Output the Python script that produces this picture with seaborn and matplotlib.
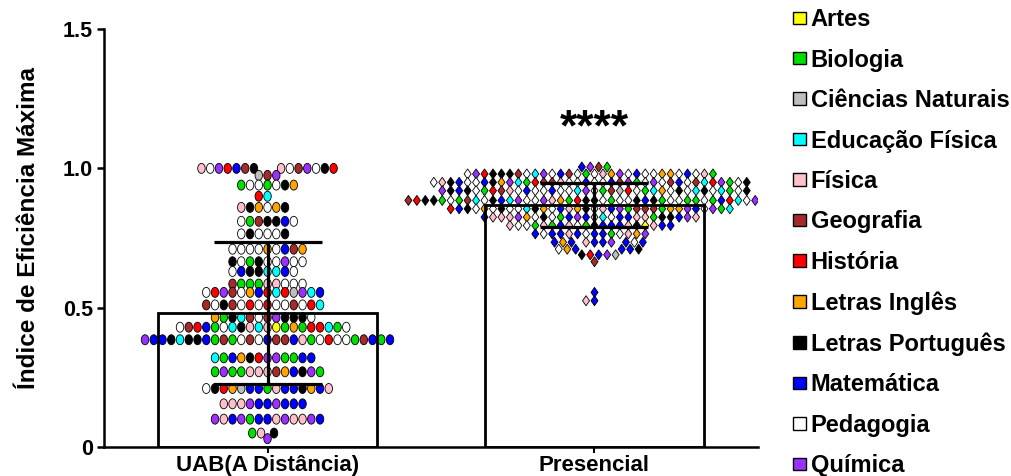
import matplotlib
matplotlib.use("Agg")
import matplotlib.pyplot as plt
import matplotlib.patches as mpatches
from matplotlib.markers import MarkerStyle
from matplotlib.transforms import Affine2D
import pandas as pd
import seaborn as sns

# ---------------------------------------------------------------------------
# Data (one string of course codes per swarm row)
# ---------------------------------------------------------------------------
COURSES = [
    "Artes", "Biologia", "Ciências Naturais", "Educação Física", "Física",
    "Geografia", "História", "Letras Inglês", "Letras Português",
    "Matemática", "Pedagogia", "Química",
]
COURSE_CODES = "ABCEFGHILMPQ"
COURSE_COLORS = [
    "#FFFF00", "#00E000", "#BEBEBE", "#00FFFF", "#FFC0CB", "#A52A2A",
    "#FF0000", "#FFA500", "#000000", "#0000FF", "#FFFFFF", "#9B30FF",
]

GROUPS = ["UAB(A Distância)", "Presencial"]
GROUP_MEAN = [0.48, 0.868]
GROUP_SD = [0.255, 0.079]

UAB_VALUES = [1.00, 0.975, 0.94, 0.90, 0.86, 0.81, 0.765, 0.71, 0.665, 0.63,
              0.585, 0.555, 0.51, 0.465, 0.43, 0.385, 0.32, 0.27, 0.21,
              0.155, 0.10, 0.05, 0.03]
UAB_ROWS = [
    "QPLFHQGMFHPGLP", "QGC", "BBPILPP", "HE", "LFILIP", "BMLLPGP",
    "PLPLPP", "PPPPMGIIP", "QLBPPLPPP", "LLMEEMPP", "BPFBFGPBP",
    "QQHMCGPHMPIEHE", "PPPLHPGGEGHPPH", "LELLGQPGLBPI",
    "FEAFBLIEHMEHPPGBBHPB", "BGMMMGGGPBBLMEPLMQBGPMBFMHLPP",
    "MQEBLIQBBHMM", "BIMBBQBFGFFQL", "LMFPHIBFCMLMMMI", "FMFMQMMMFQ",
    "QQQFFBFMMMQFM", "LBF", "Q",
]

PRES_VALUES = [1.005, 0.98, 0.95, 0.92, 0.885, 0.855, 0.825, 0.795, 0.765,
               0.735, 0.71, 0.69, 0.665, 0.555, 0.525]
PRES_ROWS = [
    "MBGQ",
    "PBQFHMPLLIGPBPFIIGQLPPEPQMPMPP",
    "PGBQFGLFPLBMQPHPEMGLPIBPEQQGMPMPPPPMHG",
    "PLEMBLPQLGPHEBLPMHPBQPLFPIMEPBPPEPCPG",
    "LQPBHPBEPMLPBBHPLHGLPMQLFPIBMPEPQBPMGBEPPBLLB",
    "LIIQPMHPLBQPEMFLPIMBPGQFMPEBPIIGLG",
    "MQFFFPMBMLPFMQEMPFBFLQFMIL",
    "FMBMPMFMBLMPFBAFMPFL",
    "FMBMPPMIMMFQMP",
    "PMMIMMQMMF",
    "PMIMML",
    "CLQMH",
    "G",
    "M",
    "FM",
]

Y_TICKS = [0, 0.5, 1.0, 1.5]
Y_TICK_LABELS = ["0", "0.5", "1.0", "1.5"]

# layout: groups sit half a unit apart so the swarm gutter is wide enough
GROUP_POS = [0.0, 0.5]
PALETTE = dict(zip(COURSES, COURSE_COLORS))
CODE_TO_COURSE = dict(zip(COURSE_CODES, COURSES))


def build_frame(values, rows, pos):
    recs = []
    for v, codes in zip(values, rows):
        for c in codes:
            recs.append({"pos": pos, "valor": v, "curso": CODE_TO_COURSE[c]})
    return pd.DataFrame(recs)


def main() -> None:
    sns.set_theme(style="ticks")
    plt.rcParams.update({
        "font.family": ["Liberation Sans", "DejaVu Sans"],
        "font.weight": "bold",
        "axes.labelweight": "bold",
        "text.color": "black",
        "axes.labelcolor": "black",
        "xtick.color": "black",
        "ytick.color": "black",
        "axes.edgecolor": "black",
    })

    uab = build_frame(UAB_VALUES, UAB_ROWS, GROUP_POS[0])
    pres = build_frame(PRES_VALUES, PRES_ROWS, GROUP_POS[1])

    fig = plt.figure(figsize=(10.12, 4.76), dpi=100)
    ax = fig.add_axes([0.1028, 0.0609, 0.6462, 0.878])

    oval = MarkerStyle("o", transform=Affine2D().scale(1.0, 1.33))
    diamond = MarkerStyle("D", transform=Affine2D().scale(0.69, 0.98))

    sns.swarmplot(data=uab, x="pos", y="valor", hue="curso", hue_order=COURSES,
                  palette=PALETTE, native_scale=True, orient="x", size=5.4,
                  marker=oval, edgecolor="black", linewidth=0.6,
                  legend=False, ax=ax, zorder=2)
    sns.swarmplot(data=pres, x="pos", y="valor", hue="curso", hue_order=COURSES,
                  palette=PALETTE, native_scale=True, orient="x", size=5.2,
                  marker=diamond, edgecolor="black", linewidth=0.6,
                  legend=False, ax=ax, zorder=2)

    sns.barplot(x=GROUP_POS, y=GROUP_MEAN, native_scale=True, orient="x",
                width=0.672, fill=False, color="black", linewidth=2.0,
                errorbar=None, ax=ax, zorder=4)
    ax.errorbar(GROUP_POS, GROUP_MEAN, yerr=GROUP_SD, fmt="none",
                ecolor="black", elinewidth=2.3, capsize=39, capthick=2.3,
                zorder=5)

    ax.text(GROUP_POS[1], 1.10, "****", ha="center", va="baseline",
            fontsize=32, fontweight="bold")

    ax.set_xlim(-0.25, 0.75)
    ax.set_ylim(0, 1.5)
    ax.set_xticks(GROUP_POS)
    ax.set_xticklabels(GROUPS, fontsize=16, fontweight="bold")
    ax.set_yticks(Y_TICKS)
    ax.set_yticklabels(Y_TICK_LABELS, fontsize=15.5, fontweight="bold")
    ax.set_xlabel("")
    ax.set_ylabel("Índice de Eficiência Máxima", fontsize=17.5,
                  fontweight="bold")
    ax.yaxis.set_label_coords(-0.098, 0.524)
    ax.spines[["top", "right"]].set_visible(False)
    for side in ("left", "bottom"):
        ax.spines[side].set_linewidth(1.8)
    ax.tick_params(axis="y", length=5, width=1.8, pad=3)
    ax.tick_params(axis="x", length=4, width=1.5, pad=2)
    ax.grid(False)

    handles = [mpatches.Patch(facecolor=PALETTE[c], edgecolor="black",
                              linewidth=1.0, label=c) for c in COURSES]
    fig.legend(handles=handles, loc="upper left",
               bbox_to_anchor=(0.7836, 0.983), frameon=False,
               prop={"size": 17, "weight": "bold"},
               handlelength=0.55, handleheight=0.42, handletextpad=0.2,
               labelspacing=0.74, borderpad=0, borderaxespad=0)

    fig.savefig("out.png", dpi=100)
    plt.close(fig)


if __name__ == "__main__":
    main()
